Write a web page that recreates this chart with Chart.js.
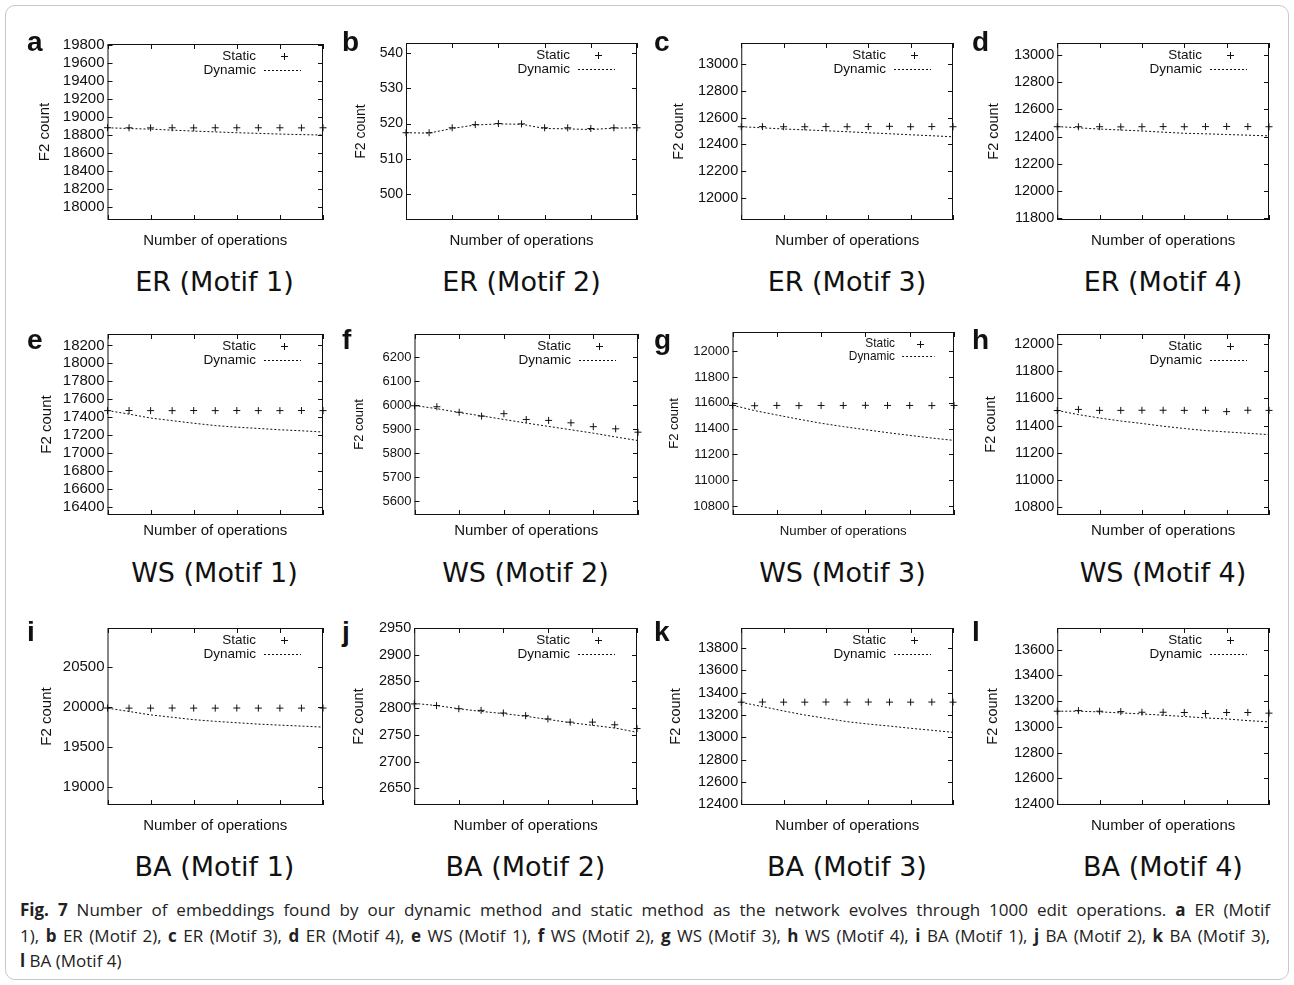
<!DOCTYPE html>
<html>
<head>
<meta charset="utf-8">
<script src="https://cdn.jsdelivr.net/npm/chart.js@4.4.1/dist/chart.umd.min.js"></script>
<style>
  body { margin: 0; background: #fff; }
  #fig { position: relative; width: 1294px; height: 985px; overflow: hidden; }
  .box { position: absolute; left: 5px; top: 5px; width: 1282px; height: 973px; border: 1px solid #c8c8c8; border-radius: 10px; }
  canvas { position: absolute; }
  .letter { position: absolute; font: bold 28px "Liberation Sans", Arial, sans-serif; line-height: 28px; color: #111; }
  .sub { position: absolute; font: 27px "DejaVu Sans", sans-serif; line-height: 1; transform: translate(-50%, -50%); white-space: nowrap; color: #111; }
  .cap { position: absolute; left: 20px; width: 1250px; font: 17px "Open Sans", sans-serif; line-height: 1; white-space: nowrap; color: #222; }
  .just { text-align: justify; text-align-last: justify; }
</style>
</head>
<body>
<div id="fig">
  <div class="box"></div>
  <div class="cap just" style="top:901px"><b>Fig. 7</b> Number of embeddings found by our dynamic method and static method as the network evolves through 1000 edit operations. <b>a</b> ER (Motif</div>
  <div class="cap just" style="top:927px">1), <b>b</b> ER (Motif 2), <b>c</b> ER (Motif 3), <b>d</b> ER (Motif 4), <b>e</b> WS (Motif 1), <b>f</b> WS (Motif 2), <b>g</b> WS (Motif 3), <b>h</b> WS (Motif 4), <b>i</b> BA (Motif 1), <b>j</b> BA (Motif 2), <b>k</b> BA (Motif 3),</div>
  <div class="cap" style="top:952px"><b>l</b> BA (Motif 4)</div>
</div>
<script>
// x positions (number of operations) and tick marks
const ops = [0, 100, 200, 300, 400, 500, 600, 700, 800, 900, 1000];
const xTicks = [0, 200, 400, 600, 800, 1000];

const panelLetters = ["a", "b", "c", "d", "e", "f", "g", "h", "i", "j", "k", "l"];
const panelTitles = ["ER (Motif 1)", "ER (Motif 2)", "ER (Motif 3)", "ER (Motif 4)",
  "WS (Motif 1)", "WS (Motif 2)", "WS (Motif 3)", "WS (Motif 4)",
  "BA (Motif 1)", "BA (Motif 2)", "BA (Motif 3)", "BA (Motif 4)"];

// ER
const staticA = [18878, 18877, 18876, 18877, 18876, 18877, 18877, 18877, 18877, 18876, 18877];
const dynamicA = [18877, 18869, 18862, 18851, 18840, 18831, 18822, 18815, 18807, 18801, 18796];
const ticksA = [18000, 18200, 18400, 18600, 18800, 19000, 19200, 19400, 19600, 19800];
const rangeA = [17850, 19810];

const staticB = [517.4, 517.4, 518.8, 519.7, 520.0, 519.9, 518.8, 518.8, 518.6, 518.8, 518.8];
const dynamicB = [517.4, 517.3, 518.6, 519.6, 519.9, 519.8, 518.6, 518.5, 518.3, 518.7, 518.8];
const ticksB = [500, 510, 520, 530, 540];
const rangeB = [492.7, 542.8];

const staticC = [12532, 12533, 12532, 12532, 12533, 12532, 12533, 12535, 12532, 12533, 12532];
const dynamicC = [12532, 12524, 12515, 12509, 12502, 12495, 12487, 12480, 12472, 12465, 12457];
const ticksC = [12000, 12200, 12400, 12600, 12800, 13000];
const rangeC = [11839, 13154];

const staticD = [12472, 12472, 12472, 12471, 12472, 12473, 12472, 12473, 12474, 12473, 12472];
const dynamicD = [12473, 12464, 12455, 12448, 12441, 12432, 12424, 12420, 12415, 12410, 12405];
const ticksD = [11800, 12000, 12200, 12400, 12600, 12800, 13000];
const rangeD = [11788, 13086];

// WS
const staticE = [17472, 17473, 17472, 17472, 17473, 17472, 17473, 17472, 17472, 17473, 17472];
const dynamicE = [17473, 17433, 17389, 17360, 17331, 17305, 17287, 17273, 17258, 17247, 17233];
const ticksE = [16400, 16600, 16800, 17000, 17200, 17400, 17600, 17800, 18000, 18200];
const rangeE = [16307, 18327];

const staticF = [5997, 5993, 5970, 5954, 5964, 5940, 5936, 5926, 5910, 5901, 5887];
const dynamicF = [5998, 5985, 5969, 5955, 5940, 5925, 5911, 5897, 5883, 5867, 5852];
const ticksF = [5600, 5700, 5800, 5900, 6000, 6100, 6200];
const rangeF = [5542, 6296];

const staticG = [11580, 11578, 11580, 11579, 11580, 11580, 11581, 11580, 11580, 11579, 11580];
const dynamicG = [11582, 11540, 11506, 11473, 11442, 11416, 11392, 11369, 11348, 11327, 11309];
const ticksG = [10800, 11000, 11200, 11400, 11600, 11800, 12000];
const rangeG = [10730, 12150];

const staticH = [11510, 11518, 11511, 11511, 11512, 11512, 11511, 11512, 11502, 11512, 11511];
const dynamicH = [11510, 11480, 11455, 11433, 11415, 11395, 11378, 11363, 11353, 11343, 11333];
const ticksH = [10800, 11000, 11200, 11400, 11600, 11800, 12000];
const rangeH = [10744, 12071];

// BA
const staticI = [19988, 19987, 19987, 19988, 19987, 19987, 19988, 19987, 19987, 19987, 19988];
const dynamicI = [19987, 19945, 19903, 19873, 19843, 19822, 19805, 19788, 19775, 19763, 19750];
const ticksI = [19000, 19500, 20000, 20500];
const rangeI = [18780, 20985];

const staticJ = [2808, 2805, 2799, 2796, 2791, 2786, 2780, 2774, 2774, 2769, 2762];
const dynamicJ = [2809, 2805, 2799, 2794, 2790, 2785, 2779, 2773, 2768, 2763, 2755];
const ticksJ = [2650, 2700, 2750, 2800, 2850, 2900, 2950];
const rangeJ = [2619, 2950];

const staticK = [13315, 13316, 13315, 13315, 13316, 13315, 13316, 13315, 13315, 13316, 13315];
const dynamicK = [13313, 13275, 13236, 13200, 13170, 13140, 13119, 13101, 13081, 13063, 13045];
const ticksK = [12400, 12600, 12800, 13000, 13200, 13400, 13600, 13800];
const rangeK = [12394, 13979];

const staticL = [13122, 13127, 13122, 13119, 13114, 13114, 13112, 13104, 13112, 13112, 13107];
const dynamicL = [13122, 13122, 13117, 13109, 13101, 13091, 13081, 13070, 13062, 13049, 13039];
const ticksL = [12400, 12600, 12800, 13000, 13200, 13400, 13600];
const rangeL = [12394, 13768];

const statics = [staticA, staticB, staticC, staticD, staticE, staticF, staticG, staticH, staticI, staticJ, staticK, staticL];
const dynamics = [dynamicA, dynamicB, dynamicC, dynamicD, dynamicE, dynamicF, dynamicG, dynamicH, dynamicI, dynamicJ, dynamicK, dynamicL];
const yTicks = [ticksA, ticksB, ticksC, ticksD, ticksE, ticksF, ticksG, ticksH, ticksI, ticksJ, ticksK, ticksL];
const yRanges = [rangeA, rangeB, rangeC, rangeD, rangeE, rangeF, rangeG, rangeH, rangeI, rangeJ, rangeK, rangeL];

// layout: plot frame left, top, right, bottom, distance to "F2 count", font size, legend scale
const frames = [
  [107, 44, 322, 220, 63, 15, 1], [406, 43, 637, 220, 45, 14, 1], [741, 43, 953, 220, 62, 14.5, 1], [1057, 43, 1269, 220, 63, 14.5, 1],
  [107, 334, 322, 515, 61, 15, 1], [414, 334, 637, 515, 55, 13, 1], [732, 332, 953, 515, 58, 13, 0.88], [1057, 334, 1269, 515, 66, 14.5, 1],
  [107, 628, 322, 805, 61, 15, 1], [414, 628, 637, 805, 55, 14.5, 1], [741, 628, 953, 805, 65, 14.5, 1], [1057, 628, 1269, 805, 64, 14.5, 1]
];
const xTitleY = [241, 531, 826];
const subY = [281, 572, 866];
const letterTop = [28, 326, 618];
const letterX = [27, 342, 654, 972];

const FONT = '"Liberation Sans", Arial, sans-serif';

const gnuFrame = {
  id: 'gnuFrame',
  afterDatasetsDraw(chart) {
    const {ctx, chartArea: a, scales: {x, y}} = chart;
    const k = chart.options.plugins.gnuFrame.k;
    ctx.save();
    ctx.strokeStyle = '#111';
    ctx.lineWidth = 1;
    ctx.strokeRect(a.left + 0.5, a.top + 0.5, a.right - a.left - 1, a.bottom - a.top - 1);
    ctx.beginPath();
    xTicks.forEach(v => {
      const px = Math.round(x.getPixelForValue(v)) + 0.5;
      ctx.moveTo(px, a.top); ctx.lineTo(px, a.top + 5);
      ctx.moveTo(px, a.bottom); ctx.lineTo(px, a.bottom - 5);
    });
    y.ticks.forEach(t => {
      const py = Math.round(y.getPixelForValue(t.value)) + 0.5;
      ctx.moveTo(a.left, py); ctx.lineTo(a.left + 5, py);
      ctx.moveTo(a.right, py); ctx.lineTo(a.right - 5, py);
    });
    ctx.stroke();

    // key, top right inside the frame
    ctx.fillStyle = '#111';
    ctx.font = (13.5 * k) + 'px ' + FONT;
    ctx.textAlign = 'right';
    ctx.textBaseline = 'middle';
    const tx = a.right - 67 * k;
    const y1 = a.top + 12, y2 = a.top + 12 + 14 * k;
    ctx.fillText('Static', tx, y1);
    ctx.fillText('Dynamic', tx, y2);
    const px = Math.round(a.right - 39 * k) + 0.5, py = Math.round(y1) + 0.5;
    ctx.beginPath();
    ctx.moveTo(px - 3.5, py); ctx.lineTo(px + 3.5, py);
    ctx.moveTo(px, py - 3.5); ctx.lineTo(px, py + 3.5);
    ctx.stroke();
    ctx.setLineDash([2, 2]);
    ctx.beginPath();
    ctx.moveTo(a.right - 59 * k, Math.round(y2) + 0.5);
    ctx.lineTo(a.right - 22 * k, Math.round(y2) + 0.5);
    ctx.stroke();
    ctx.restore();
  }
};

const fig = document.getElementById('fig');

frames.forEach((f, i) => {
  const [l, t, r, b, off, fs, k] = f;
  const row = Math.floor(i / 4), col = i % 4;
  const padTop = 14, padRight = 10;
  const yw = off + fs / 2;
  const xh = Math.round(xTitleY[row] - b + 7);
  const cv = document.createElement('canvas');
  cv.width = Math.round(yw + (r - l) + padRight);
  cv.height = padTop + (b - t) + xh;
  cv.style.left = (l - yw) + 'px';
  cv.style.top = (t - padTop) + 'px';
  fig.appendChild(cv);

  const tickFont = {family: FONT, size: fs, lineHeight: 1};
  new Chart(cv, {
    type: 'scatter',
    data: {
      datasets: [
        {
          label: 'Static',
          data: ops.map((v, j) => ({x: v, y: statics[i][j]})),
          showLine: false,
          pointStyle: 'cross',
          pointRadius: 3.5,
          pointBorderWidth: 1,
          borderColor: '#111',
          backgroundColor: '#111',
          clip: false
        },
        {
          label: 'Dynamic',
          data: ops.map((v, j) => ({x: v, y: dynamics[i][j]})),
          showLine: true,
          borderColor: '#111',
          borderWidth: 1,
          borderDash: [2, 2],
          pointRadius: 0,
          tension: 0,
          fill: false
        }
      ]
    },
    options: {
      responsive: false,
      animation: false,
      events: [],
      layout: {padding: {left: 0, top: padTop, right: padRight, bottom: 0}},
      plugins: {legend: {display: false}, tooltip: {enabled: false}, gnuFrame: {k: k}},
      scales: {
        x: {
          type: 'linear', min: 0, max: 1000,
          grid: {display: false}, border: {display: false},
          ticks: {display: false},
          title: {display: true, text: 'Number of operations', color: '#111', padding: 0, font: {family: FONT, size: 15 * k, lineHeight: 1}},
          afterFit: s => { s.height = xh; }
        },
        y: {
          min: yRanges[i][0], max: yRanges[i][1],
          grid: {display: false, drawTicks: false}, border: {display: false},
          afterBuildTicks: s => { s.ticks = yTicks[i].map(v => ({value: v})); },
          ticks: {padding: 3, autoSkip: false, color: '#111', font: tickFont, callback: v => String(v)},
          title: {display: true, text: 'F2 count', color: '#111', padding: 0, font: tickFont},
          afterFit: s => { s.width = yw; }
        }
      }
    },
    plugins: [gnuFrame]
  });

  const lt = document.createElement('div');
  lt.className = 'letter';
  lt.textContent = panelLetters[i];
  lt.style.left = letterX[col] + 'px';
  lt.style.top = letterTop[row] + 'px';
  fig.appendChild(lt);

  const sub = document.createElement('div');
  sub.className = 'sub';
  sub.textContent = panelTitles[i];
  sub.style.left = ((l + r) / 2) + 'px';
  sub.style.top = subY[row] + 'px';
  fig.appendChild(sub);
});
</script>
</body>
</html>
